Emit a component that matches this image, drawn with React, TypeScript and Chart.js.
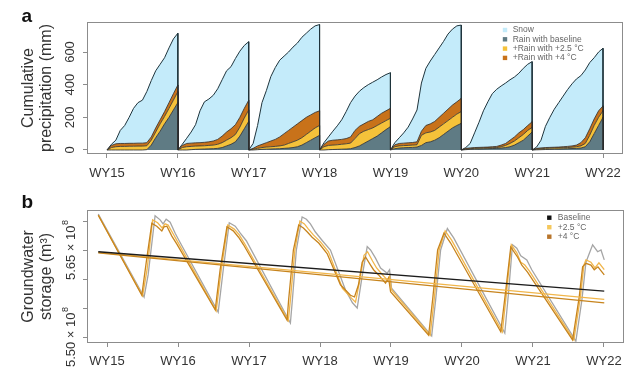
import React, { useEffect, useRef } from "react";
import { Chart, registerables } from "chart.js";

Chart.register(...registerables);

const FONT = '"Liberation Sans", Arial, Helvetica, sans-serif';

// ---------- shared x axis (water years) ----------
const waterYears = [15, 16, 17, 18, 19, 20, 21];
const yearTicks = [15, 16, 17, 18, 19, 20, 21, 22];
const yearTickLabels = ["WY15", "WY16", "WY17", "WY18", "WY19", "WY20", "WY21", "WY22"];
const xRange = [14.718, 22.282];

// ---------- panel a : cumulative precipitation (mm) ----------
const yearFractions = [0, 0.0625, 0.125, 0.1875, 0.25, 0.3125, 0.375, 0.4375, 0.5, 0.5625, 0.625, 0.6875, 0.75, 0.8125, 0.875, 0.9375, 1];
const precipTicks = [0, 200, 400, 600];
const precipRange = [-24.5, 783.7];

// total precipitation (top of snow)
const totalPrecip = [
  [0, 35, 60, 120, 150, 200, 255, 290, 305, 358, 425, 485, 525, 565, 625, 680, 715],
  [0, 35, 72, 110, 155, 240, 295, 312, 335, 375, 430, 485, 510, 560, 605, 640, 663],
  [0, 40, 150, 290, 365, 450, 505, 550, 575, 600, 630, 655, 690, 715, 740, 760, 768],
  [0, 45, 80, 115, 148, 185, 235, 290, 330, 360, 382, 400, 415, 430, 447, 462, 473],
  [0, 45, 75, 105, 140, 190, 245, 410, 500, 545, 585, 625, 665, 710, 740, 760, 765],
  [0, 15, 40, 105, 170, 240, 295, 345, 372, 392, 410, 430, 447, 470, 500, 525, 541],
  [0, 18, 60, 145, 200, 250, 290, 330, 370, 405, 435, 455, 490, 535, 565, 600, 623],
];
// cumulative rain with +4 °C
const rainPlus4 = [
  [0, 28, 38, 40, 40, 41, 41, 42, 42, 45, 80, 135, 185, 235, 290, 345, 398],
  [0, 28, 40, 42, 44, 45, 47, 50, 55, 65, 85, 110, 130, 155, 200, 255, 305],
  [0, 10, 25, 35, 45, 55, 65, 80, 100, 120, 140, 160, 180, 200, 215, 230, 240],
  [0, 35, 55, 60, 62, 65, 70, 80, 120, 145, 160, 175, 185, 205, 225, 240, 255],
  [0, 32, 40, 42, 44, 46, 50, 115, 150, 160, 175, 200, 225, 250, 275, 295, 316],
  [0, 10, 13, 15, 16, 17, 18, 20, 22, 30, 40, 60, 80, 105, 125, 150, 173],
  [0, 10, 13, 15, 16, 17, 18, 20, 22, 25, 30, 45, 75, 130, 190, 240, 270],
];
// cumulative rain with +2.5 °C
const rainPlus25 = [
  [0, 15, 20, 22, 22, 23, 23, 24, 24, 26, 60, 110, 160, 205, 255, 305, 357],
  [0, 15, 20, 22, 24, 25, 26, 28, 30, 35, 45, 60, 75, 95, 140, 195, 245],
  [0, 5, 10, 15, 18, 20, 22, 25, 30, 40, 50, 60, 75, 95, 115, 135, 150],
  [0, 20, 28, 30, 32, 35, 38, 42, 70, 100, 115, 125, 135, 150, 165, 180, 194],
  [0, 20, 25, 27, 28, 30, 32, 90, 105, 110, 120, 140, 160, 180, 200, 220, 235],
  [0, 5, 8, 10, 11, 12, 13, 14, 15, 20, 28, 40, 55, 75, 95, 120, 138],
  [0, 5, 8, 10, 11, 12, 13, 14, 15, 17, 20, 25, 40, 90, 150, 200, 240],
];
// cumulative rain with baseline climate
const rainBaseline = [
  [0, 0, 0, 0, 0, 0, 0, 0, 0, 2, 30, 75, 115, 160, 200, 245, 290],
  [0, 0, 0, 2, 4, 5, 6, 7, 8, 10, 15, 25, 35, 50, 85, 130, 175],
  [0, 0, 2, 4, 5, 6, 7, 8, 10, 12, 15, 20, 30, 45, 60, 75, 90],
  [0, 0, 2, 3, 4, 5, 6, 8, 15, 25, 40, 55, 70, 85, 105, 125, 143],
  [0, 8, 12, 14, 15, 16, 18, 28, 45, 50, 60, 75, 95, 115, 135, 150, 163],
  [0, 2, 4, 5, 6, 7, 8, 9, 10, 12, 15, 20, 30, 45, 60, 85, 110],
  [0, 1, 2, 3, 4, 5, 6, 7, 8, 9, 10, 12, 20, 50, 100, 150, 200],
];
const precipLegend = ["Snow", "Rain with baseline", "+Rain with +2.5 \u00b0C", "+Rain with +4 \u00b0C"];

// ---------- panel b : groundwater storage (10^8 m3) ----------
const storageTicks = [5.5, 5.55, 5.6, 5.65, 5.7];
const storageLabelled = [5.5, 5.65];
const storageRange = [5.48966, 5.71897];

const storageBaseline = [
  [14.877, 5.712], [15.522, 5.569], [15.579, 5.607], [15.677, 5.709], [15.748, 5.702], [15.79, 5.695], [15.833, 5.703], [15.889, 5.698], [15.96, 5.679], [16.016, 5.666],
  [16.566, 5.543], [16.637, 5.616], [16.722, 5.697], [16.806, 5.691], [16.877, 5.679], [16.962, 5.666],
  [17.583, 5.524], [17.611, 5.564], [17.667, 5.65], [17.748, 5.707], [17.808, 5.703], [17.865, 5.695], [17.935, 5.681], [18.034, 5.666], [18.147, 5.65],
  [18.359, 5.581], [18.457, 5.559], [18.524, 5.55], [18.585, 5.598], [18.665, 5.656], [18.712, 5.65], [18.782, 5.636], [18.853, 5.619], [18.947, 5.61], [18.98, 5.616], [19.008, 5.584],
  [19.573, 5.502], [19.629, 5.564], [19.699, 5.65], [19.794, 5.687], [19.883, 5.671],
  [20.603, 5.507], [20.659, 5.581], [20.711, 5.659], [20.772, 5.653], [20.828, 5.64], [20.913, 5.633], [20.983, 5.616],
  [21.604, 5.493], [21.689, 5.564], [21.746, 5.629], [21.84, 5.659], [21.911, 5.647], [21.958, 5.65], [22.004, 5.633],
];
const storagePlus25 = [
  [14.877, 5.71], [15.501, 5.571], [15.564, 5.616], [15.642, 5.702], [15.713, 5.697], [15.776, 5.688], [15.818, 5.695], [15.861, 5.693], [15.931, 5.678], [15.995, 5.664],
  [16.538, 5.545], [16.609, 5.616], [16.701, 5.693], [16.792, 5.686], [16.863, 5.676], [16.933, 5.662],
  [17.554, 5.528], [17.583, 5.564], [17.646, 5.65], [17.717, 5.7], [17.78, 5.695], [17.837, 5.686], [17.907, 5.676], [18.006, 5.664], [18.119, 5.647],
  [18.316, 5.584], [18.443, 5.567], [18.5, 5.56], [18.556, 5.595], [18.62, 5.641], [18.67, 5.647], [18.74, 5.631], [18.797, 5.619], [18.867, 5.609], [18.951, 5.598], [18.98, 5.605], [19.008, 5.581],
  [19.551, 5.503], [19.608, 5.564], [19.678, 5.65], [19.763, 5.683], [19.854, 5.667],
  [20.568, 5.509], [20.631, 5.581], [20.695, 5.659], [20.772, 5.645], [20.828, 5.629], [20.885, 5.624], [20.948, 5.614],
  [21.576, 5.495], [21.668, 5.569], [21.717, 5.624], [21.746, 5.633], [21.816, 5.629], [21.873, 5.619], [21.929, 5.628], [22.004, 5.616],
];
const storagePlus4 = [
  [14.877, 5.71], [15.49, 5.572], [15.557, 5.633], [15.631, 5.696], [15.701, 5.691], [15.772, 5.683], [15.804, 5.69], [15.843, 5.691], [15.913, 5.674], [15.984, 5.66],
  [16.524, 5.547], [16.593, 5.616], [16.689, 5.69], [16.778, 5.683], [16.853, 5.672], [16.923, 5.659],
  [17.536, 5.529], [17.558, 5.564], [17.625, 5.65], [17.7, 5.693], [17.766, 5.688], [17.822, 5.681], [17.889, 5.672], [17.982, 5.662], [18.1, 5.644],
  [18.288, 5.59], [18.429, 5.572], [18.486, 5.569], [18.542, 5.59], [18.594, 5.629], [18.641, 5.638], [18.712, 5.624], [18.754, 5.616], [18.825, 5.607], [18.923, 5.593], [18.966, 5.602], [18.994, 5.578],
  [19.53, 5.503], [19.586, 5.564], [19.657, 5.65], [19.746, 5.679], [19.84, 5.662],
  [20.546, 5.509], [20.617, 5.581], [20.687, 5.655], [20.782, 5.638], [20.843, 5.624], [20.923, 5.612],
  [21.558, 5.495], [21.651, 5.569], [21.699, 5.621], [21.746, 5.627], [21.816, 5.624], [21.863, 5.616], [21.915, 5.621], [22.004, 5.607],
];
const trendBaseline = [[14.877, 5.647], [22.004, 5.579]];
const trendPlus25 = [[14.877, 5.646], [22.004, 5.565]];
const trendPlus4 = [[14.877, 5.645], [22.004, 5.559]];
const storageLegend = ["Baseline", "+2.5 \u00b0C", "+4 \u00b0C"];

// ---------- styles ----------
const C = {
  snow: "#c4ebfa",
  rainBase: "#5f7b84",
  rain25: "#f5c23a",
  rain4: "#c8721a",
  edge: "#2b2b2b",
  top: "#1f343c",
  frame: "#8c8c8c",
  text: "#333333",
  gwBase: "#a5a5a5",
  gw25: "#f1b64b",
  gw4: "#c7841d",
  trendBase: "#1c1c1c",
  legBase: "#111111",
  leg25: "#f5c85c",
  leg4: "#b8752b",
};

function yearSeries(values: number[][]) {
  const pts: any[] = [];
  values.forEach((yr, i) => {
    yr.forEach((v, j) => pts.push({ x: waterYears[i] + yearFractions[j], y: v }));
    pts.push({ x: waterYears[i] + 1, y: 0 });
  });
  return pts;
}
const toXY = (pairs: number[][]) => pairs.map(([x, y]) => ({ x, y }));

function decorPlugin(cfg: any) {
  return {
    id: "decor",
    afterDraw(chart: any) {
      const { ctx, chartArea: a, scales } = chart;
      ctx.save();
      // frame
      ctx.strokeStyle = C.frame;
      ctx.lineWidth = 1;
      ctx.strokeRect(a.left + 0.5, a.top + 0.5, a.right - a.left - 1, a.bottom - a.top - 1);
      // rotated y tick labels
      const ys = scales.y;
      ctx.fillStyle = C.text;
      for (const t of ys.ticks) {
        const lab = cfg.yLabel(t.value);
        if (!lab) continue;
        const py = ys.getPixelForValue(t.value);
        ctx.save();
        ctx.translate(cfg.yLabelX, py);
        ctx.rotate(-Math.PI / 2);
        ctx.textBaseline = "middle";
        ctx.textAlign = "left";
        ctx.font = `${cfg.yFont}px ${FONT}`;
        const wMain = ctx.measureText(lab.main).width;
        let wSup = 0;
        if (lab.sup) {
          ctx.font = `9px ${FONT}`;
          wSup = ctx.measureText(lab.sup).width + 0.5;
        }
        const start = -(wMain + wSup) / 2;
        ctx.font = `${cfg.yFont}px ${FONT}`;
        ctx.fillText(lab.main, start, 0);
        if (lab.sup) {
          ctx.font = `9px ${FONT}`;
          ctx.fillText(lab.sup, start + wMain + 0.5, -5);
        }
        ctx.restore();
      }
      // legend
      ctx.textBaseline = "middle";
      ctx.textAlign = "left";
      cfg.legend.forEach((label: string, i: number) => {
        const y = cfg.legendY + i * cfg.legendDy;
        ctx.fillStyle = cfg.legendColors[i];
        ctx.fillRect(cfg.legendX - 2.2, y - 2.2, 4.4, 4.4);
        ctx.fillStyle = "#666";
        ctx.font = `8.5px ${FONT}`;
        ctx.fillText(label, cfg.legendX + cfg.legendGap, y);
      });
      // panel letter
      ctx.font = `bold 19px ${FONT}`;
      ctx.fillStyle = "#111";
      ctx.textBaseline = "alphabetic";
      ctx.fillText(cfg.letter, 21.5, cfg.letterY);
      ctx.restore();
    },
  };
}

function xScale(height: number, pad: number) {
  return {
    type: "linear",
    min: xRange[0],
    max: xRange[1],
    afterBuildTicks: (s: any) => {
      s.ticks = yearTicks.map((v) => ({ value: v }));
    },
    afterFit: (s: any) => {
      s.height = height;
    },
    grid: { drawOnChartArea: false, drawTicks: true, tickLength: 4, color: C.frame },
    border: { display: false },
    ticks: {
      autoSkip: false,
      maxRotation: 0,
      minRotation: 0,
      padding: pad,
      color: C.text,
      font: { family: FONT, size: 13 },
      callback: (v: number) => yearTickLabels[yearTicks.indexOf(v)] ?? "",
    },
  };
}

function yScale(range: number[], ticks: number[], title: string[]) {
  return {
    type: "linear",
    min: range[0],
    max: range[1],
    afterBuildTicks: (s: any) => {
      s.ticks = ticks.map((v) => ({ value: v }));
    },
    afterFit: (s: any) => {
      s.width = 87;
    },
    grid: { drawOnChartArea: false, drawTicks: true, tickLength: 4, color: C.frame },
    border: { display: false },
    ticks: { display: false },
    title: {
      display: true,
      text: title,
      color: C.text,
      font: { family: FONT, size: 16, lineHeight: 1.125 },
      padding: { top: 19.5, bottom: 0 },
    },
  };
}

function precipConfig(): any {
  const line = { pointRadius: 0, tension: 0 };
  return {
    type: "line",
    data: {
      datasets: [
        { ...line, label: precipLegend[1], data: yearSeries(rainBaseline), borderColor: C.edge, borderWidth: 0.8, backgroundColor: C.rainBase, fill: "origin" },
        { ...line, label: precipLegend[2], data: yearSeries(rainPlus25), borderColor: C.edge, borderWidth: 0.8, backgroundColor: C.rain25, fill: "-1" },
        { ...line, label: precipLegend[3], data: yearSeries(rainPlus4), borderColor: C.edge, borderWidth: 0.8, backgroundColor: C.rain4, fill: "-1" },
        { ...line, label: precipLegend[0], data: yearSeries(totalPrecip), borderColor: C.top, borderWidth: 1, backgroundColor: C.snow, fill: "-1" },
      ],
    },
    options: {
      responsive: false,
      maintainAspectRatio: false,
      animation: false,
      events: [],
      layout: { padding: { left: 0, right: 16, top: 22, bottom: 0 } },
      plugins: { legend: { display: false }, tooltip: { enabled: false } },
      scales: {
        x: xScale(32, 8),
        y: yScale(precipRange, precipTicks, ["Cumulative", "precipitation (mm)"]),
      },
    },
    plugins: [
      decorPlugin({
        yLabel: (v: number) => ({ main: String(v) }),
        yLabelX: 70,
        yFont: 13,
        legend: precipLegend,
        legendColors: [C.snow, C.rainBase, C.rain25, C.rain4],
        legendX: 505,
        legendGap: 7.7,
        legendY: 30,
        legendDy: 9.3,
        letter: "a",
        letterY: 21.7,
      }),
    ],
  };
}

function storageConfig(): any {
  const line = { pointRadius: 0, tension: 0, fill: false };
  return {
    type: "line",
    data: {
      datasets: [
        { ...line, label: storageLegend[0], data: toXY(storageBaseline), borderColor: C.gwBase, borderWidth: 1.3, order: 5 },
        { ...line, label: storageLegend[1], data: toXY(storagePlus25), borderColor: C.gw25, borderWidth: 1.3, order: 4 },
        { ...line, label: storageLegend[2], data: toXY(storagePlus4), borderColor: C.gw4, borderWidth: 1.3, order: 3 },
        { ...line, label: "trend " + storageLegend[1], data: toXY(trendPlus25), borderColor: C.gw25, borderWidth: 1.3, order: 2 },
        { ...line, label: "trend " + storageLegend[2], data: toXY(trendPlus4), borderColor: C.gw4, borderWidth: 1.3, order: 1 },
        { ...line, label: "trend " + storageLegend[0], data: toXY(trendBaseline), borderColor: C.trendBase, borderWidth: 1.3, order: 0 },
      ],
    },
    options: {
      responsive: false,
      maintainAspectRatio: false,
      animation: false,
      events: [],
      layout: { padding: { left: 0, right: 15, top: 24, bottom: 0 } },
      plugins: { legend: { display: false }, tooltip: { enabled: false } },
      scales: {
        x: xScale(36, 7),
        y: yScale(storageRange, storageTicks, ["Groundwater", "storage (m\u00b3)"]),
      },
    },
    plugins: [
      decorPlugin({
        yLabel: (v: number) => (storageLabelled.includes(v) ? { main: v.toFixed(2) + " \u00d7 10", sup: "8" } : null),
        yLabelX: 71,
        yFont: 13,
        legend: storageLegend,
        legendColors: [C.legBase, C.leg25, C.leg4],
        legendX: 549.3,
        legendGap: 8.5,
        legendY: 31.7,
        legendDy: 9.5,
        letter: "b",
        letterY: 22.3,
      }),
    ],
  };
}

function Panel({ make, width, height, top }: any) {
  const ref = useRef<HTMLCanvasElement>(null);
  useEffect(() => {
    const chart = new Chart(ref.current as HTMLCanvasElement, make());
    return () => chart.destroy();
  }, []);
  return <canvas ref={ref} width={width} height={height} style={{ position: "absolute", left: 0, top }} />;
}

export default function App() {
  return (
    <div style={{ position: "absolute", left: 0, top: 0, width: 639, height: 379, background: "#fff", overflow: "hidden" }}>
      <Panel make={precipConfig} width={639} height={186} top={0} />
      <Panel make={storageConfig} width={639} height={193} top={186} />
    </div>
  );
}
